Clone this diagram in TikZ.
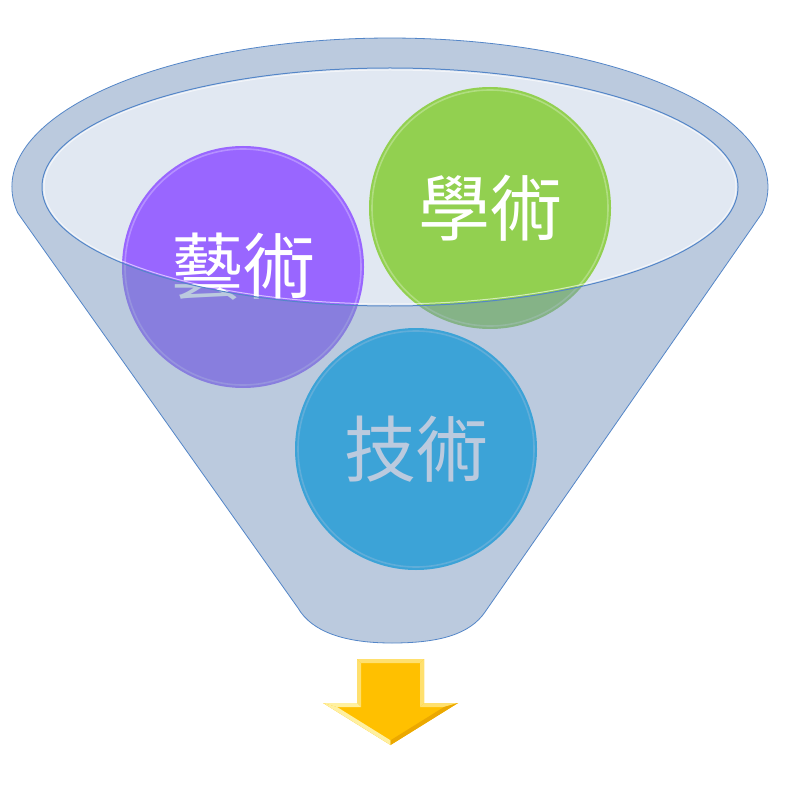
\documentclass[tikz,border=0pt]{standalone}
\usepackage{fontspec}
\newfontfamily\cjk{Noto Sans CJK TC}
\definecolor{rimblue}{RGB}{121,151,191}
\definecolor{edgeblue}{RGB}{84,134,200}
\definecolor{interior}{RGB}{225,232,242}
\definecolor{purp}{RGB}{153,102,255}
\definecolor{grn}{RGB}{146,208,80}
\definecolor{lblue}{RGB}{0,176,240}
\definecolor{gold}{RGB}{255,192,0}
\definecolor{goldlight}{RGB}{255,224,110}
\definecolor{goldpale}{RGB}{255,240,160}
\definecolor{golddark}{RGB}{235,168,0}
\tikzset{
  ball/.style={circle, minimum size=242pt, inner sep=0pt, text=white,
    font=\cjk\fontsize{72}{72}\selectfont},
  ballring/.style={white, opacity=0.28, line width=1.6pt},
}
\def\silpath{(17.7,-212.9) arc[start angle=190, end angle=-10, x radius=378, y radius=149]
  -- (485,-612) .. controls (470,-634) and (440,-643) .. (392,-643)
  .. controls (345,-643) and (312,-632) .. (298,-608) -- cycle}
\begin{document}
\begin{tikzpicture}[x=1pt,y=1pt]
\useasboundingbox (0,0) rectangle (794,-794);
\fill[white] (0,0) rectangle (794,-794);

% back interior of the funnel
\fill[interior] (390,-187) ellipse[x radius=348, y radius=119];

% circles
\node[ball, fill=purp] (art) at (243,-267) {藝術};
\node[ball, fill=grn] (acad) at (490,-208) {學術};
\node[ball, fill=lblue] (tech) at (416,-449) {技術};
\draw[ballring] (art.center) circle[radius=118];
\draw[ballring] (acad.center) circle[radius=118];
\draw[ballring] (tech.center) circle[radius=118];

% translucent front of the funnel
\fill[rimblue, fill opacity=0.5, even odd rule] \silpath
  (390,-187) ellipse[x radius=348, y radius=119];

% outlines
\draw[white, opacity=0.7, line width=1.2pt, shift={(1.5,-1.5)}] (40,-250) -- (290,-600);
\draw[edgeblue, line width=0.8pt, line join=round] \silpath;
\draw[white, opacity=0.6, line width=1pt] (390,-187) ellipse[x radius=346, y radius=117];
\draw[edgeblue, line width=1pt] (390,-187) ellipse[x radius=348, y radius=119];

% arrow
\fill[gold] (357,-659) -- (424,-659) -- (424,-703) -- (458,-703) -- (390.5,-745)
  -- (323,-703) -- (357,-703) -- cycle;
\fill[goldlight] (357,-659) -- (424,-659) -- (420,-663) -- (361,-663) -- cycle;
\fill[goldlight] (357,-659) -- (361,-663) -- (361,-707) -- (357,-703) -- cycle;
\fill[goldlight] (424,-659) -- (424,-703) -- (420,-707) -- (420,-663) -- cycle;
\fill[goldpale] (323,-703) -- (357,-703) -- (361,-707) -- (337,-707) -- cycle;
\fill[goldlight] (424,-703) -- (458,-703) -- (444,-707) -- (420,-707) -- cycle;
\fill[goldpale] (323,-703) -- (390.5,-745) -- (390.5,-740.3) -- (337,-707) -- cycle;
\fill[golddark] (458,-703) -- (390.5,-745) -- (390.5,-740.3) -- (444,-707) -- cycle;
\end{tikzpicture}
\end{document}
